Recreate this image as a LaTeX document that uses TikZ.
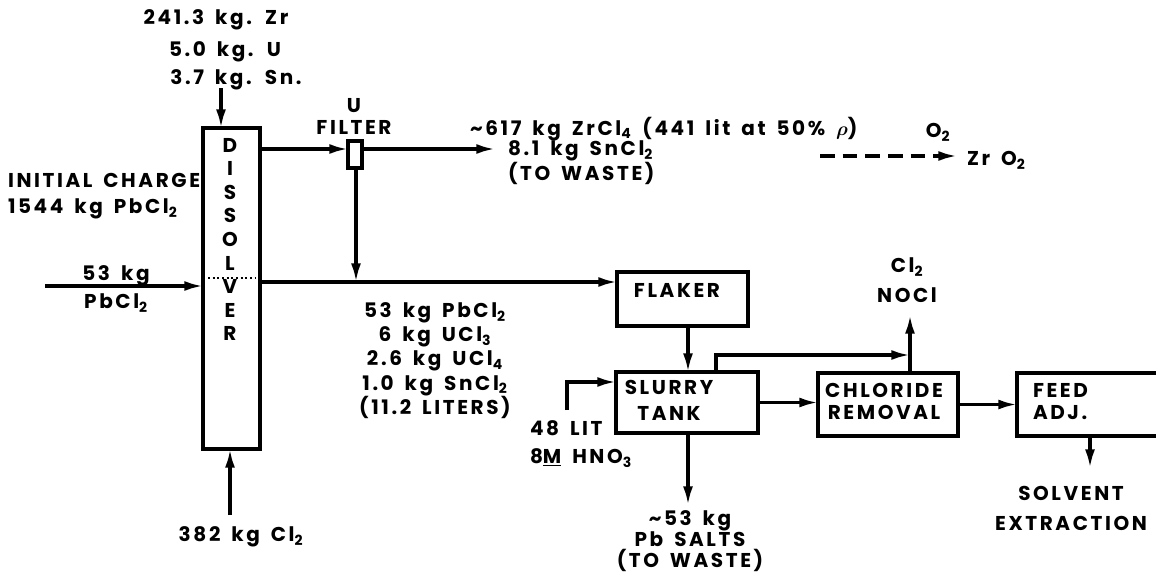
\documentclass[tikz,border=0pt]{standalone}
\usepackage{fontspec}
\setmainfont{Poppins}[LetterSpace=13,WordSpace=1.6]
\usetikzlibrary{arrows.meta,calc}
\newcommand{\sbs}[1]{\textsubscript{#1}}
\newcommand{\fs}[1]{\fontsize{15}{#1}\selectfont\bfseries}
\begin{document}
\begin{tikzpicture}[x=0.75pt,y=-0.75pt,
  every node/.style={inner sep=0pt, outer sep=0pt, font=\fs{17}},
  box/.style={draw, line width=2.4pt, rectangle},
  arr/.style={line width=2.4pt, -{Latex[length=14pt,width=7.5pt]}},
]
\useasboundingbox (0,0) rectangle (1156,579);

% boxes
\node[box, minimum width=42.75pt, minimum height=240.75pt] (diss) at (231.5,288.5) {};
\node[box, minimum width=10.5pt, minimum height=20.25pt] (filt) at (355,154.5) {};
\node[box, minimum width=98.25pt, minimum height=40.5pt] (flaker) at (682.5,299) {};
\node[box, minimum width=106.5pt, minimum height=45.75pt] (slurry) at (687,402.5) {};
\node[box, minimum width=105pt, minimum height=47.25pt] (chlor) at (888,404.5) {};
\node[box, minimum width=108.75pt, minimum height=47.25pt] (feed) at (1089.5,404.5) {};

% box texts
\node[align=center, font=\fs{17.7}] (disst) at (230,239.5) {D\\I\\S\\S\\O\\L\\V\\E\\R};
\node (flakert) at (677,290) {FLAKER};
\node[align=center, font=\fs{19.5}] (slurryt) at (669,400) {SLURRY\\TANK};
\node[align=center] (chlort) at (884,401.5) {CHLORIDE\\REMOVAL};
\node[align=left, anchor=west] (feedt) at (1033,401.5) {FEED\\ADJ.};

% dotted level line in dissolver
\coordinate (dl) at (208,278);
\coordinate (dr) at (255,278);
\draw[dotted, line width=1.5pt] (dl) -- (dr);

% feed texts
\node (t1) at (216,20) {241.3 kg. Zr};
\node (t2) at (225,52) {5.0 kg. U};
\node (t3) at (236,80) {3.7 kg. Sn.};
\node[align=left, anchor=west, font=\fs{20}] (init) at (8,196) {INITIAL CHARGE\\1544 kg PbCl\sbs{2}};
\node[align=center, font=\fs{21}] (pbin_t) at (116,289) {53 kg\\PbCl\sbs{2}};
\node (clin_t) at (241,537) {382 kg Cl\sbs{2}};
\node[align=center] (filtt) at (354,116.5) {U\\FILTER};
\node[anchor=west] (zr1) at (470,129) {\textasciitilde617 kg ZrCl\sbs{4} (441 lit at 50\% {\boldmath$\rho$})};
\node[align=left, anchor=west] (zr2) at (508,163) {8.1 kg SnCl\sbs{2}\\(TO WASTE)};
\node (o2) at (938,132) {O\sbs{2}};
\node[anchor=west] (zro2) at (967,160) {Zr O\sbs{2}};
\node[align=center, font=\fs{18.2}] (mix) at (435,360.5) {53 kg PbCl\sbs{2}\\6 kg UCl\sbs{3}\\2.6 kg UCl\sbs{4}\\1.0 kg SnCl\sbs{2}\\(11.2 LITERS)};
\node[align=left, anchor=west, font=\fs{21}] (hno3t) at (530,444) {48 LIT\\8\underline{M} HNO\sbs{3}};
\node[align=center, font=\fs{22.5}] (gast) at (907,280) {Cl\sbs{2}\\NOCl};
\node[align=center, font=\fs{16}] (pbsalt) at (690,541) {\textasciitilde53 kg\\Pb SALTS\\(TO WASTE)};
\node[align=center, font=\fs{22.5}] (solvt) at (1071,508) {SOLVENT\\EXTRACTION};

% connector ends and bends
\coordinate (zrin) at (221,88);
\coordinate (clin) at (230,515);
\coordinate (pbin) at (45,286);
\coordinate (fin) at (348,149);
\coordinate (zrout) at (495,149);
\coordinate (j) at (356,282);
\coordinate (hn) at (567,410);
\coordinate (hn2) at (567,382);
\coordinate (hn3) at (616,382);
\coordinate (pbout) at (688,505);
\coordinate (sb) at (716,355);
\coordinate (vt) at (910,355);
\coordinate (gas) at (910,315);
\coordinate (solv) at (1090,468);
\coordinate (da) at (820,156);
\coordinate (db) at (957,156);

% connectors
\draw[arr] (zrin) -- (zrin |- diss.north);
\draw[arr] (clin) -- (clin |- diss.south);
\draw[arr] (pbin) -- (pbin -| diss.west);
\draw[arr] (diss.east |- fin) -- (fin);
\draw[arr] (filt.east |- zrout) -- (zrout);
\draw[arr] (j |- filt.south) -- (j);
\draw[arr] (diss.east |- j) -- (flaker.west |- j);
\draw[arr] (pbout |- flaker.south) -- (pbout |- slurry.north);
\draw[arr] (hn) -- (hn2) -- (hn3 -| slurry.west);
\draw[arr] (pbout |- slurry.south) -- (pbout);
\draw[arr] (slurry.east) -- (slurry.east -| chlor.west);
\draw[arr] (chlor.east) -- (chlor.east -| feed.west);
\draw[arr] (sb |- slurry.north) -- (sb) -- (vt);
\draw[arr] (gas |- chlor.north) -- (gas);
\draw[arr] (solv |- feed.south) -- (solv);
\draw[arr, dash pattern=on 11pt off 6pt] (da) -- (db);
\end{tikzpicture}
\end{document}
